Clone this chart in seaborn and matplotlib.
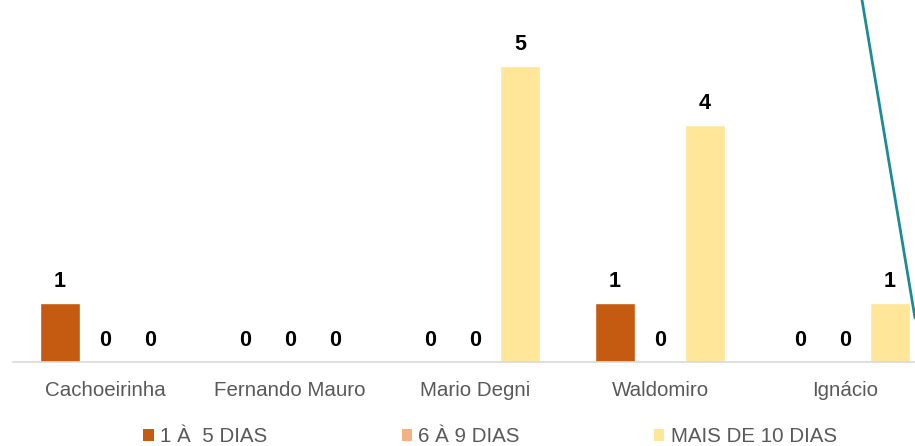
import matplotlib
matplotlib.use("Agg")
import matplotlib.pyplot as plt
from matplotlib.patches import Patch
from matplotlib.lines import Line2D
import seaborn as sns
import pandas as pd

CATEGORIES = ["Cachoeirinha", "Fernando Mauro", "Mario Degni", "Waldomiro", "Ignácio"]
SERIES = ["1 À  5 DIAS", "6 À 9 DIAS", "MAIS DE 10 DIAS"]
D1_5 = [1, 0, 0, 1, 0]
D6_9 = [0, 0, 0, 0, 0]
D10_PLUS = [0, 0, 5, 4, 1]
COLORS = ["#C55A11", "#F4B183", "#FFE699"]

rows = []
for name, vals in zip(SERIES, [D1_5, D6_9, D10_PLUS]):
    for cat, v in zip(CATEGORIES, vals):
        rows.append({"cat": cat, "serie": name, "valor": v})
df = pd.DataFrame(rows)

sns.set_style("white")
plt.rcParams["font.family"] = ["Liberation Sans", "DejaVu Sans"]

fig = plt.figure(figsize=(9.15, 4.46), dpi=100)
# axes spans from x=12.5px to the right edge (chart is cropped on the right)
ax = fig.add_axes([12.5 / 915, 84 / 446, 1 - 12.5 / 915, 362 / 446])

sns.barplot(data=df, x="cat", y="valor", hue="serie", order=CATEGORIES,
            hue_order=SERIES, palette=COLORS, width=0.73, gap=0.11,
            legend=False, ax=ax, saturation=1)

for c in ax.containers:
    ax.bar_label(c, fmt="%d", padding=8, fontsize=15.5, fontweight="bold",
                 color="black")

ax.set_xlim(-0.5, -0.5 + (915 - 12.5) / 185)
ax.set_ylim(0, 362 / 59.2)
ax.set_xlabel("")
ax.set_ylabel("")
ax.set_yticks([])
for s in ["top", "right", "left"]:
    ax.spines[s].set_visible(False)
ax.spines["bottom"].set_color("#D9D9D9")
ax.spines["bottom"].set_linewidth(1.2)
ax.tick_params(axis="x", length=0, pad=14, labelsize=14.8, labelcolor="#595959")

handles = [Patch(facecolor=c, edgecolor="none") for c in COLORS]
fig.legend(handles, SERIES, loc="center", bbox_to_anchor=(490 / 915, 1 - 437 / 446),
           ncol=3, frameon=False, fontsize=14.8, labelcolor="#595959",
           handlelength=0.5, handleheight=0.5, handletextpad=0.3,
           columnspacing=6.55)

# stray teal line from a neighbouring element
fig.add_artist(Line2D([862 / 915, 915 / 915], [1.0, 1 - 318 / 446],
                      transform=fig.transFigure, color="#1E8C98", lw=2))

fig.savefig("out.png", dpi=100)
